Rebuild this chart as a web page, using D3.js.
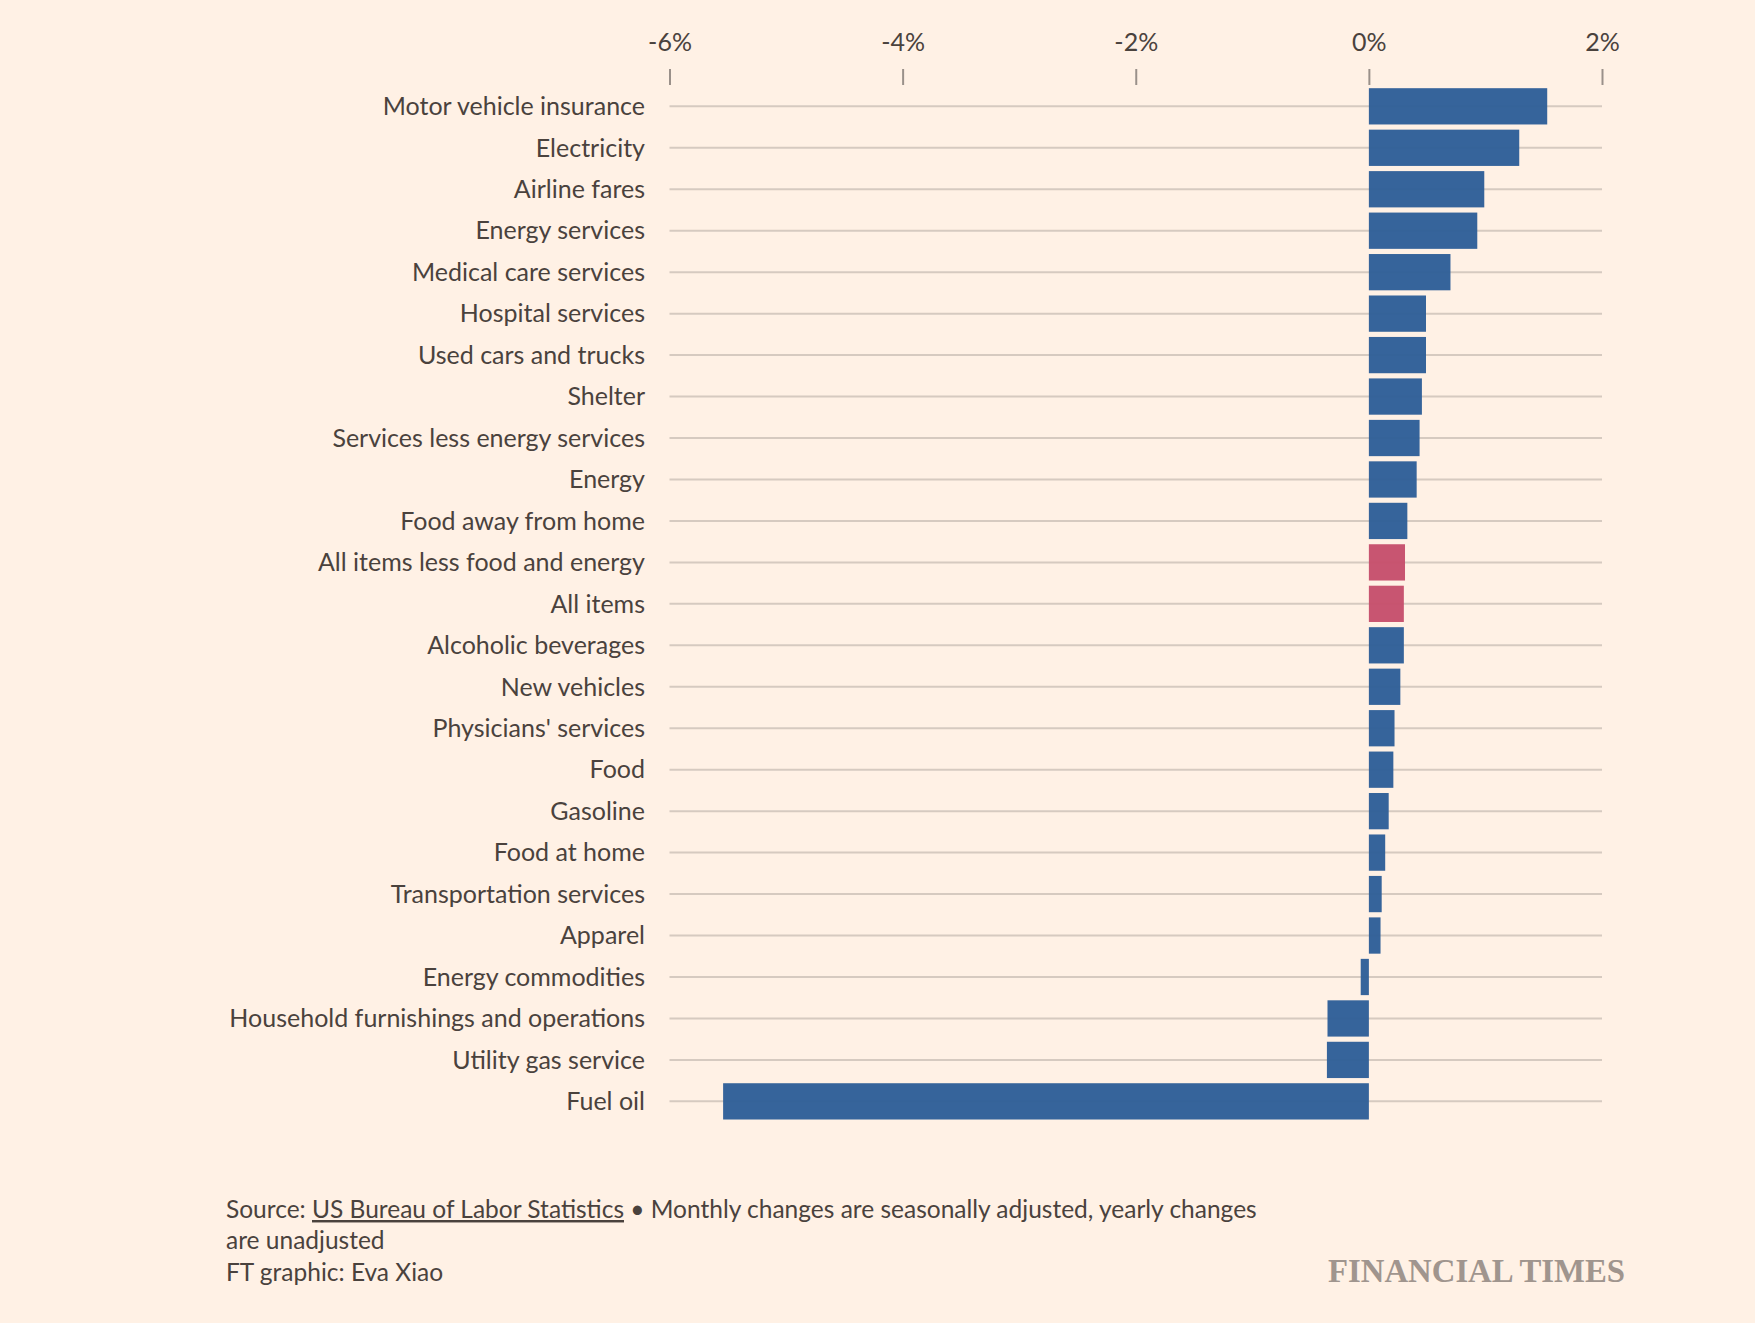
<!DOCTYPE html>
<html>
<head>
<meta charset="utf-8">
<script src="https://cdn.jsdelivr.net/npm/d3@7"></script>
<style>
  html, body { margin: 0; padding: 0; background: #fff1e5; }
</style>
</head>
<body>
<div id="chart"></div>
<script>
// categories, top to bottom
const categories = [
  "Motor vehicle insurance", "Electricity", "Airline fares", "Energy services",
  "Medical care services", "Hospital services", "Used cars and trucks", "Shelter",
  "Services less energy services", "Energy", "Food away from home",
  "All items less food and energy", "All items", "Alcoholic beverages",
  "New vehicles", "Physicians' services", "Food", "Gasoline", "Food at home",
  "Transportation services", "Apparel", "Energy commodities",
  "Household furnishings and operations", "Utility gas service", "Fuel oil"
];
// % change
const changes = [
  1.53, 1.29, 0.99, 0.93, 0.70, 0.49, 0.49, 0.455, 0.435, 0.41, 0.33,
  0.31, 0.30, 0.30, 0.27, 0.22, 0.21, 0.17, 0.14, 0.11, 0.10, -0.07,
  -0.355, -0.36, -5.54
];
// the two headline measures are highlighted
const highlighted = ["All items less food and energy", "All items"];
const xTicks = [-6, -4, -2, 0, 2];

const width = 1755, height = 1323;
const sans = 'Lato, "Noto Sans", sans-serif';
const data = categories.map((c, i) => ({name: c, value: changes[i]}));

const svg = d3.select('#chart').append('svg')
  .attr('width', width).attr('height', height)
  .attr('font-family', sans)
  .style('display', 'block')
  .style('background', '#fff1e5');

const x = d3.scaleLinear().domain([-6, 2]).range([669.5, 1602]);
const y = d3.scaleBand().domain(categories)
  .range([85.6, 1122.1])
  .paddingInner(0.125).paddingOuter(0.0625);

// gridlines through the middle of each row
svg.append('g').selectAll('line').data(data).join('line')
  .attr('x1', x(-6)).attr('x2', x(2))
  .attr('y1', d => y(d.name) + y.bandwidth() / 2)
  .attr('y2', d => y(d.name) + y.bandwidth() / 2)
  .attr('stroke', '#d6cac0').attr('stroke-width', 2);

// top axis: tick marks and labels
const xAxis = svg.append('g').attr('transform', 'translate(0,85)')
  .call(d3.axisTop(x).tickValues(xTicks).tickSize(16).tickPadding(18)
    .tickFormat(d => d + '%'));
xAxis.select('.domain').remove();
xAxis.selectAll('.tick line').attr('stroke', '#9a908a').attr('stroke-width', 2);
xAxis.selectAll('.tick text')
  .attr('font-family', sans)
  .attr('font-size', 25).attr('fill', '#4a423d');

// bars
svg.append('g').selectAll('rect').data(data).join('rect')
  .attr('x', d => x(Math.min(0, d.value)))
  .attr('y', d => y(d.name))
  .attr('width', d => Math.abs(x(d.value) - x(0)))
  .attr('height', y.bandwidth())
  .attr('fill', d => highlighted.includes(d.name) ? '#c6506c' : '#2f5f98')
  .attr('fill-opacity', 0.97);

// category labels
svg.append('g').selectAll('text').data(data).join('text')
  .attr('x', 645)
  .attr('y', d => y(d.name) + y.bandwidth() / 2)
  .attr('dy', '0.35em')
  .attr('text-anchor', 'end')
  .attr('font-size', 25)
  .attr('fill', '#4a423d')
  .text(d => d.name);

// footnote
const note = svg.append('g').attr('font-size', 24.5).attr('fill', '#4a423d');
const l1 = note.append('text').attr('x', 226).attr('y', 1218);
l1.append('tspan').text('Source: ');
l1.append('tspan').attr('text-decoration', 'underline').text('US Bureau of Labor Statistics');
l1.append('tspan').text(' \u2022 Monthly changes are seasonally adjusted, yearly changes');
note.append('text').attr('x', 226).attr('y', 1249).text('are unadjusted');
note.append('text').attr('x', 226).attr('y', 1281).text('FT graphic: Eva Xiao');

svg.append('text')
  .attr('x', 1328).attr('y', 1282)
  .attr('font-family', '"Liberation Serif", "DejaVu Serif", serif')
  .attr('font-size', 34).attr('font-weight', 'bold')
  .attr('textLength', 297).attr('lengthAdjust', 'spacingAndGlyphs')
  .attr('fill', '#a0958e')
  .text('FINANCIAL TIMES');
</script>
</body>
</html>
